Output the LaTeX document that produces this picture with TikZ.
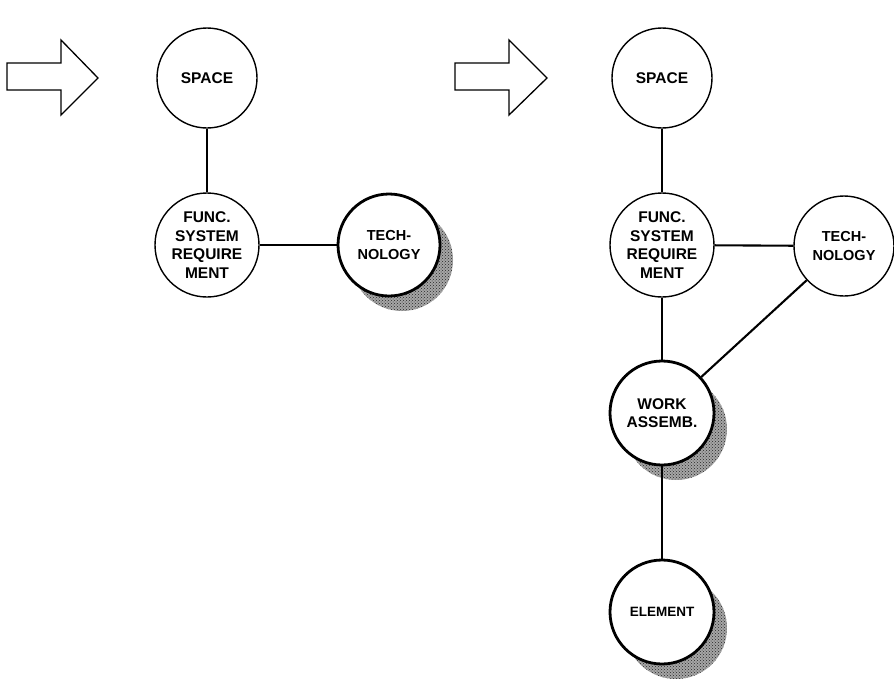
\documentclass[tikz,border=0pt]{standalone}
\usepackage{fontspec}
\setmainfont{Liberation Sans}
\usetikzlibrary{patterns}
\begin{document}
\begin{tikzpicture}[x=1pt,y=-1pt,
  thinc/.style={circle,draw,line width=1.4pt,fill=white,minimum size=102pt,inner sep=0pt,align=center,
    font=\fontsize{15.5}{18.5}\selectfont\bfseries},
  boldc/.style={thinc,line width=2.8pt},
  techfont/.style={font=\fontsize{14.5}{19}\selectfont\bfseries},
  link/.style={line width=2.1pt},
  shadowfill/.style={fill=black!35,postaction={pattern=crosshatch dots,pattern color=black!85}},
  bigarrow/.style={draw,line width=1.3pt,line join=miter,fill=white}]
\useasboundingbox (0,0) rectangle (894,686);
% positions
\coordinate (pS1) at (207,78);
\coordinate (pF1) at (207,245);
\coordinate (pT1) at (389,245);
\coordinate (pS2) at (662,78);
\coordinate (pF2) at (662,245);
\coordinate (pT2) at (844,246);
\coordinate (pW2) at (662,413);
\coordinate (pE2) at (662,612);
% shadows
\fill[shadowfill] ([shift={(13,15)}]pT1) circle (51);
\fill[shadowfill] ([shift={(14,16)}]pW2) circle (51);
\fill[shadowfill] ([shift={(14,16)}]pE2) circle (51);
% arrows
\draw[bigarrow] (7,63) -- (61,63) -- (61,40) -- (98,78) -- (61,115) -- (61,90) -- (7,90) -- cycle;
\draw[bigarrow] (455,63) -- (509,63) -- (509,40) -- (547,78) -- (509,115) -- (509,90) -- (455,90) -- cycle;
% left tree
\node[thinc,minimum size=100pt] (s1) at (pS1) {SPACE};
\node[thinc,minimum size=104pt] (f1) at (pF1) {FUNC.\\SYSTEM\\REQUIRE\\MENT};
\node[boldc,techfont] (t1) at (pT1) {TECH-\\NOLOGY};
\draw[link] (s1) -- (f1);
\draw[link] (f1) -- (t1);
% right tree
\node[thinc,minimum size=100pt] (s2) at (pS2) {SPACE};
\node[thinc,minimum size=104pt] (f2) at (pF2) {FUNC.\\SYSTEM\\REQUIRE\\MENT};
\node[thinc,techfont,minimum size=100pt] (t2) at (pT2) {TECH-\\NOLOGY};
\node[boldc,minimum size=104pt] (w2) at (pW2) {WORK\\ASSEMB.};
\node[boldc,minimum size=104pt,font=\fontsize{13.5}{16}\selectfont\bfseries] (e2) at (pE2) {ELEMENT};
\draw[link] (s2) -- (f2);
\draw[link] (f2) -- (t2);
\draw[link] (f2) -- (w2);
\draw[link] (t2) -- (w2);
\draw[link] (w2) -- (e2);
\end{tikzpicture}
\end{document}
